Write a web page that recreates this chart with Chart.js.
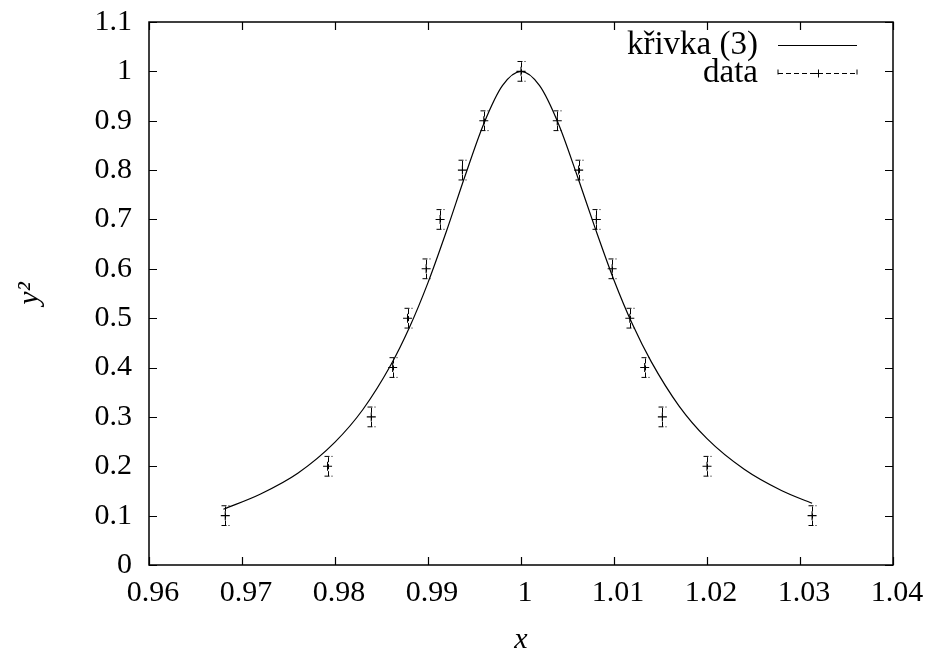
<!DOCTYPE html>
<html>
<head>
<meta charset="utf-8">
<script src="https://cdn.jsdelivr.net/npm/chart.js@4"></script>
<style>
  html, body { margin: 0; padding: 0; background: #fff; }
</style>
</head>
<body>
<canvas id="chart" width="930" height="654"></canvas>
<script>
// measured points with y errors
const dataX = [0.9682, 0.9792, 0.9839, 0.9862, 0.9878, 0.9898, 0.9913, 0.9937, 0.9960, 1.0000,
               1.0039, 1.0062, 1.0081, 1.0098, 1.0117, 1.0133, 1.0152, 1.0200, 1.0313];
const dataY = [0.1, 0.2, 0.3, 0.4, 0.5, 0.6, 0.7, 0.8, 0.9, 1.0,
               0.9, 0.8, 0.7, 0.6, 0.5, 0.4, 0.3, 0.2, 0.1];
const dataErr = [0.02, 0.02, 0.02, 0.02, 0.02, 0.02, 0.02, 0.02, 0.02, 0.02,
                 0.02, 0.02, 0.02, 0.02, 0.02, 0.02, 0.02, 0.02, 0.02];

// curve (3)
const curveX = [0.968, 0.972, 0.976, 0.980, 0.983, 0.986, 0.988, 0.990, 0.992, 0.994, 0.996, 0.998, 1.000,
                1.002, 1.004, 1.006, 1.008, 1.010, 1.012, 1.014, 1.017, 1.020, 1.024, 1.028, 1.0313];
const curveY = [0.113, 0.144, 0.186, 0.249, 0.315, 0.405, 0.481, 0.572, 0.677, 0.789, 0.894, 0.971, 1.000,
                0.971, 0.895, 0.791, 0.681, 0.577, 0.487, 0.412, 0.322, 0.256, 0.194, 0.151, 0.125];

const xTicks = [0.96, 0.97, 0.98, 0.99, 1.0, 1.01, 1.02, 1.03, 1.04];
const seriesLabels = ["křivka (3)", "data"];

const FONT = '"Liberation Serif", "Times New Roman", serif';

// ---------- plugins ----------
const frameAndTicks = {
  id: "frameAndTicks",
  afterDraw(chart) {
    const { ctx, chartArea: a, scales } = chart;
    ctx.save();
    ctx.strokeStyle = "#000";
    ctx.lineWidth = 1.5;
    ctx.strokeRect(a.left, a.top, a.right - a.left, a.bottom - a.top);
    ctx.lineWidth = 1.2;
    const len = 8;
    ctx.beginPath();
    scales.x.ticks.forEach((t) => {
      const px = Math.round(scales.x.getPixelForValue(t.value)) + 0.5;
      ctx.moveTo(px, a.bottom); ctx.lineTo(px, a.bottom - len);
      ctx.moveTo(px, a.top); ctx.lineTo(px, a.top + len);
    });
    scales.y.ticks.forEach((t) => {
      const py = Math.round(scales.y.getPixelForValue(t.value)) + 0.5;
      ctx.moveTo(a.left, py); ctx.lineTo(a.left + len, py);
      ctx.moveTo(a.right, py); ctx.lineTo(a.right - len, py);
    });
    ctx.stroke();
    ctx.restore();
  },
};

const errorBars = {
  id: "errorBars",
  afterDatasetsDraw(chart) {
    const { ctx, scales } = chart;
    const cap = 4;
    ctx.save();
    ctx.strokeStyle = "#000";
    ctx.lineWidth = 1;
    ctx.setLineDash([5, 2]);
    dataX.forEach((x, i) => {
      const px = Math.round(scales.x.getPixelForValue(x)) + 0.5;
      const lo = scales.y.getPixelForValue(dataY[i] - dataErr[i]);
      const hi = scales.y.getPixelForValue(dataY[i] + dataErr[i]);
      ctx.beginPath();
      ctx.moveTo(px, lo); ctx.lineTo(px, hi);
      ctx.moveTo(px - cap, lo); ctx.lineTo(px + cap, lo);
      ctx.moveTo(px - cap, hi); ctx.lineTo(px + cap, hi);
      ctx.stroke();
    });
    ctx.restore();
  },
};

const keyBox = {
  id: "keyBox",
  afterDraw(chart) {
    const { ctx, chartArea: a } = chart;
    const textRight = a.right - 135;
    const x0 = a.right - 115, x1 = a.right - 36;
    const rows = [a.top + 23, a.top + 51];
    ctx.save();
    ctx.fillStyle = "#000";
    ctx.strokeStyle = "#000";
    ctx.font = "33px " + FONT;
    ctx.textAlign = "right";
    ctx.textBaseline = "middle";
    seriesLabels.forEach((lab, i) => ctx.fillText(lab, textRight, rows[i]));

    // solid line sample
    ctx.lineWidth = 1.2;
    ctx.beginPath();
    ctx.moveTo(x0, rows[0] + 0.5); ctx.lineTo(x1, rows[0] + 0.5);
    ctx.stroke();

    // dashed error-bar sample
    const y = Math.round(rows[1]) + 0.5;
    ctx.lineWidth = 1;
    ctx.setLineDash([5, 3]);
    ctx.beginPath();
    ctx.moveTo(x0, y); ctx.lineTo(x1, y);
    ctx.moveTo(x0, y - 4); ctx.lineTo(x0, y + 4);
    ctx.moveTo(x1, y - 4); ctx.lineTo(x1, y + 4);
    ctx.stroke();
    ctx.setLineDash([]);
    const mx = Math.round((x0 + x1) / 2) + 0.5;
    ctx.beginPath();
    ctx.moveTo(mx - 4, y); ctx.lineTo(mx + 4, y);
    ctx.moveTo(mx, y - 4); ctx.lineTo(mx, y + 4);
    ctx.stroke();
    ctx.restore();
  },
};

// ---------- chart ----------
const ctx = document.getElementById("chart").getContext("2d");
new Chart(ctx, {
  type: "scatter",
  data: {
    datasets: [
      {
        label: seriesLabels[0],
        type: "line",
        data: curveX.map((x, i) => ({ x, y: curveY[i] })),
        borderColor: "#000",
        borderWidth: 1.2,
        pointRadius: 0,
        fill: false,
        cubicInterpolationMode: "monotone",
      },
      {
        label: seriesLabels[1],
        data: dataX.map((x, i) => ({ x, y: dataY[i] })),
        pointStyle: "cross",
        pointRadius: 4.5,
        borderColor: "#000",
        borderWidth: 1.1,
        backgroundColor: "#000",
      },
    ],
  },
  options: {
    responsive: false,
    animation: false,
    layout: { padding: { left: 0, right: 37, top: 22, bottom: 0 } },
    plugins: {
      legend: { display: false },
      tooltip: { enabled: false },
    },
    scales: {
      x: {
        type: "linear",
        min: 0.96,
        max: 1.04,
        afterFit: (s) => { s.height = 89; },
        afterBuildTicks: (s) => {
          s.ticks = xTicks.map((v) => ({ value: v }));
        },
        grid: { display: false, drawTicks: false },
        border: { display: false },
        ticks: {
          color: "#000",
          padding: 10,
          labelOffset: 4,
          maxRotation: 0,
          font: { family: FONT, size: 30 },
          callback: (v) => String(Math.round(v * 100) / 100),
        },
        title: {
          display: true,
          text: "x",
          color: "#000",
          padding: 0,
          font: { family: FONT, size: 30, style: "italic", lineHeight: 0.9 },
        },
      },
      y: {
        min: 0,
        max: 1.1,
        afterFit: (s) => { s.width = 149; },
        grid: { display: false, drawTicks: false },
        border: { display: false },
        ticks: {
          color: "#000",
          padding: 17,
          stepSize: 0.1,
          font: { family: FONT, size: 30, lineHeight: 0.1 },
          callback: (v) => String(Math.round(v * 10) / 10),
        },
        title: {
          display: true,
          text: "y²",
          color: "#000",
          padding: { top: 12, bottom: 0 },
          font: { family: FONT, size: 30, style: "italic" },
        },
      },
    },
  },
  plugins: [errorBars, frameAndTicks, keyBox],
});
</script>
</body>
</html>
